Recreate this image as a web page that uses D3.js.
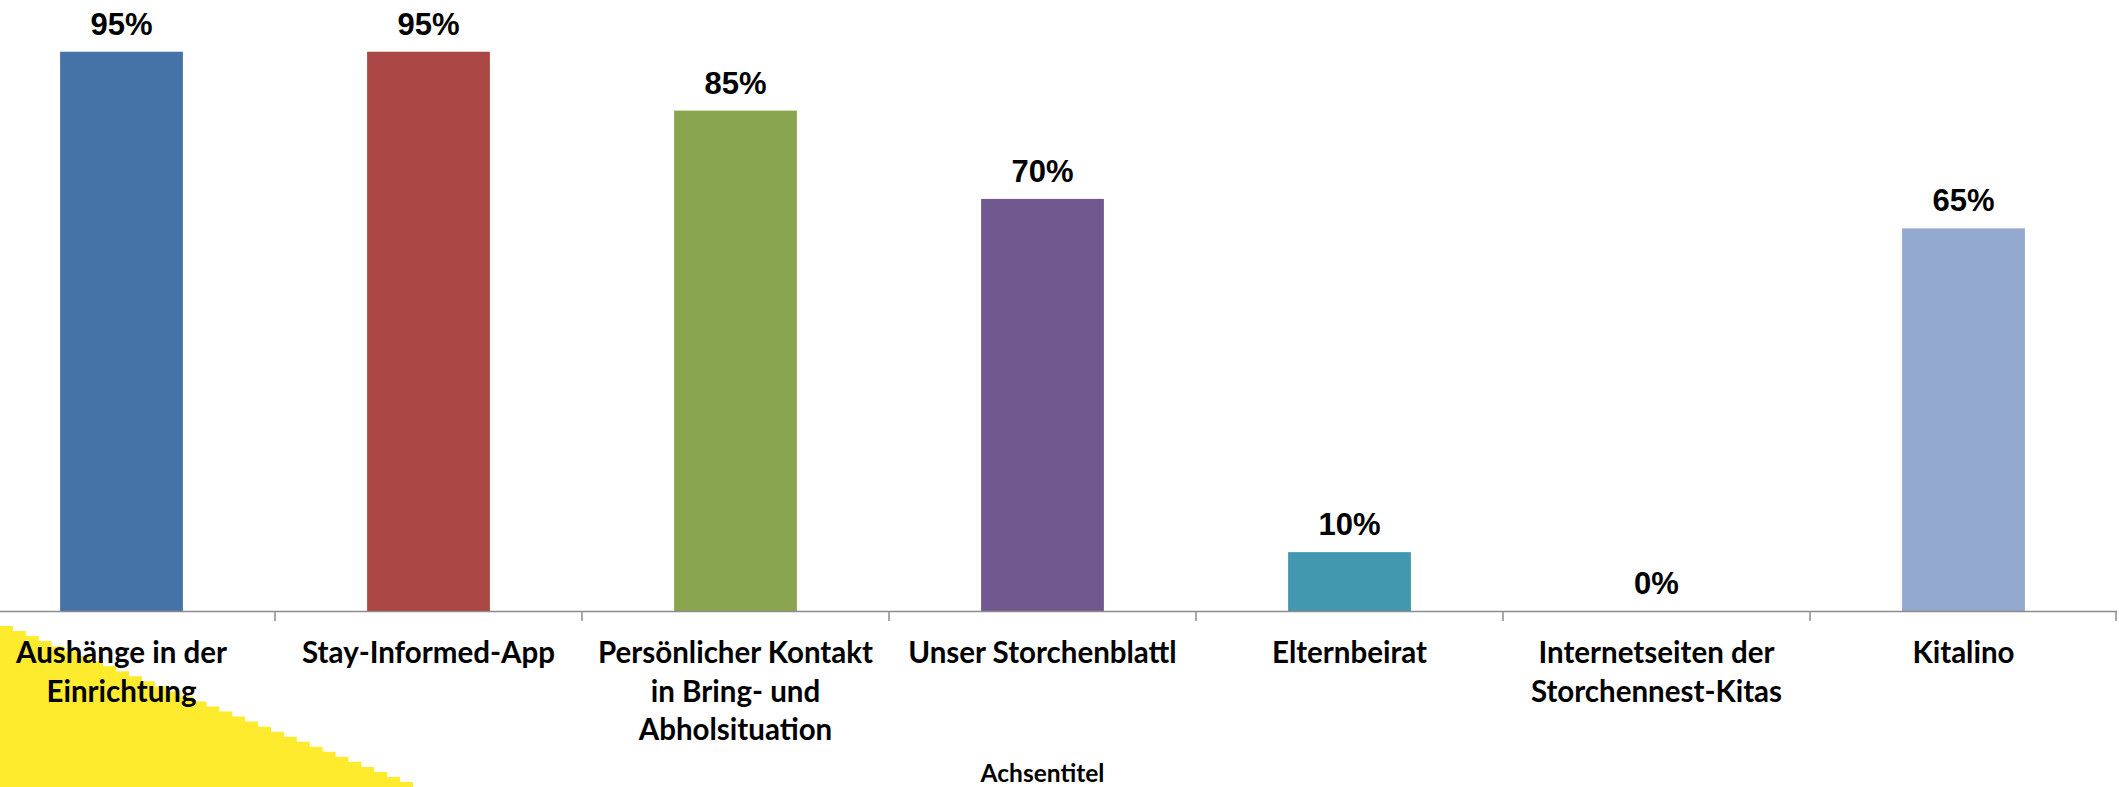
<!DOCTYPE html>
<html>
<head>
<meta charset="utf-8">
<script src="https://cdn.jsdelivr.net/npm/d3@7"></script>
<style>
    body { margin: 0; background: #fff; overflow: hidden; }
    #chart { width: 2119px; height: 787px; }
</style>
</head>
<body>
<div id="chart"></div>
<script>
// --- Data ---
const categories = [
    "Aushänge in der\nEinrichtung",
    "Stay-Informed-App",
    "Persönlicher Kontakt\nin Bring- und\nAbholsituation",
    "Unser Storchenblattl",
    "Elternbeirat",
    "Internetseiten der\nStorchennest-Kitas",
    "Kitalino"
];
const values = [95, 95, 85, 70, 10, 0, 65];
const barColors = ["#4572A7", "#AA4643", "#89A54E", "#71588F", "#4198AF", "#4198AF", "#94A9D0"];
const axisTitle = "Achsentitel";

const width = 2119;
const height = 787;

const svg = d3.select("#chart").append("svg")
    .attr("width", width)
    .attr("height", height);

svg.append("rect").attr("width", width).attr("height", height).attr("fill", "#fff");

// yellow corner (stepped edge like in the screenshot)
const steps = d3.range(0, 32);
const stepW = 413 / 32, stepH = (787 - 626) / 32;
let cornerPath = "M0,787 L0,626";
steps.forEach(i => {
    cornerPath += ` L${(i + 1) * stepW},${626 + i * stepH} L${(i + 1) * stepW},${626 + (i + 1) * stepH}`;
});
cornerPath += " Z";
svg.append("path").attr("d", cornerPath).attr("fill", "#ffeb2e");

// --- Scales ---
const x = d3.scaleBand()
    .domain(categories)
    .range([-32, 2117])
    .paddingInner(0.6)
    .paddingOuter(0.3);

const y = d3.scaleLinear()
    .domain([0, 100])
    .range([611, 22.3]);

// --- Bars ---
svg.append("g")
    .selectAll("rect")
    .data(values)
    .join("rect")
    .attr("x", (d, i) => x(categories[i]))
    .attr("y", d => y(d))
    .attr("width", x.bandwidth())
    .attr("height", d => y(0) - y(d))
    .attr("fill", (d, i) => barColors[i]);

// --- Value labels ---
svg.append("g")
    .selectAll("text")
    .data(values)
    .join("text")
    .attr("x", (d, i) => x(categories[i]) + x.bandwidth() / 2)
    .attr("y", d => y(d) - 17)
    .attr("text-anchor", "middle")
    .attr("font-family", "'Liberation Sans', Arial, sans-serif")
    .attr("font-weight", "bold")
    .attr("font-size", 31)
    .attr("fill", "#000")
    .text(d => d + "%");

// --- Category axis ---
const axisG = svg.append("g");
axisG.append("line")
    .attr("x1", x.range()[0]).attr("x2", x.range()[1])
    .attr("y1", y(0) + 0.5).attr("y2", y(0) + 0.5)
    .attr("stroke", "#8c8c8c")
    .attr("stroke-width", 1.5);

const boundaries = d3.range(0, categories.length + 1).map(i => x.range()[0] + i * x.step());
axisG.selectAll(".tick")
    .data(boundaries)
    .join("line")
    .attr("class", "tick")
    .attr("x1", d => Math.min(d, 2116)).attr("x2", d => Math.min(d, 2116))
    .attr("y1", y(0)).attr("y2", y(0) + 10)
    .attr("stroke", "#8c8c8c")
    .attr("stroke-width", 1.5);

const labels = axisG.selectAll(".cat")
    .data(categories)
    .join("text")
    .attr("class", "cat")
    .attr("text-anchor", "middle")
    .attr("font-family", "Lato, 'Open Sans', sans-serif")
    .attr("font-weight", "bold")
    .attr("font-size", 29.5)
    .attr("fill", "#000");

labels.each(function (d) {
    const cx = x(d) + x.bandwidth() / 2;
    d3.select(this).selectAll("tspan")
        .data(d.split("\n"))
        .join("tspan")
        .attr("x", cx)
        .attr("y", (line, j) => 663 + j * 38.6)
        .text(line => line);
});

// --- Axis title ---
svg.append("text")
    .attr("x", (x.range()[0] + x.range()[1]) / 2)
    .attr("y", 782)
    .attr("text-anchor", "middle")
    .attr("font-family", "Lato, 'Open Sans', sans-serif")
    .attr("font-weight", "bold")
    .attr("font-size", 24.5)
    .attr("fill", "#000")
    .text(axisTitle);
</script>
</body>
</html>
